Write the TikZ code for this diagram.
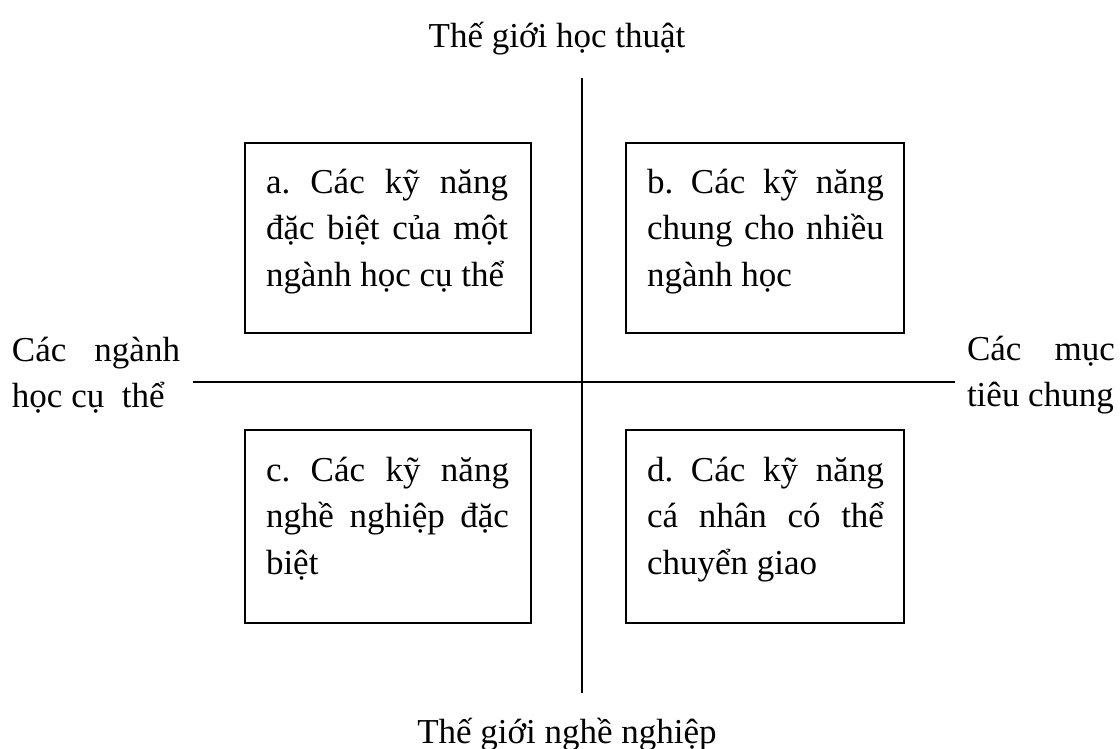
\documentclass[tikz,border=0pt]{standalone}
\usepackage{fontspec}
\setmainfont{Liberation Serif}
\frenchspacing
\newlength\ux
\setlength\ux{0.3429pt}
\newcommand\jline[2]{\makebox[#1\ux][s]{#2}}
\begin{document}
\begin{tikzpicture}[x=0.3429pt, y=-0.3429pt,
  every node/.style={inner sep=0pt, outer sep=0pt, font=\fontsize{12pt}{16.1pt}\selectfont},
  quadbox/.style={draw, line width=2\ux},
  axis/.style={line width=2\ux},
  lbl/.style={anchor=base west},
  ttl/.style={anchor=base}]
\useasboundingbox (0,0) rectangle (1120,749);
% axes
\coordinate (vtop) at (582,78);
\coordinate (vbot) at (582,693);
\coordinate (hleft) at (193,382);
\coordinate (hright) at (955,382);
\draw[axis] (vtop) -- (vbot);
\draw[axis] (hleft) -- (hright);
% boxes
\node[quadbox, minimum width=286\ux, minimum height=190\ux] (a) at (388,238) {};
\node[quadbox, minimum width=278\ux, minimum height=190\ux] (b) at (765,238) {};
\node[quadbox, minimum width=286\ux, minimum height=193\ux] (c) at (388,526.5) {};
\node[quadbox, minimum width=278\ux, minimum height=193\ux] (d) at (765,526.5) {};
% box texts
\node[lbl] (at) at (266,193) {\parbox[t]{242\ux}{\jline{242}{a. Các kỹ năng}\\\jline{242}{đặc biệt của một}\\ngành học cụ thể}};
\node[lbl] (bt) at (647,193) {\parbox[t]{237\ux}{\jline{237}{b. Các kỹ năng}\\\jline{237}{chung cho nhiều}\\ngành học}};
\node[lbl] (ct) at (266,481) {\parbox[t]{243\ux}{\jline{243}{c. Các kỹ năng}\\\jline{243}{nghề nghiệp đặc}\\biệt}};
\node[lbl] (dt) at (647,481) {\parbox[t]{237\ux}{\jline{237}{d. Các kỹ năng}\\\jline{237}{cá nhân có thể}\\chuyển giao}};
% axis labels
\node[ttl] (top) at (557,47) {Thế giới học thuật};
\node[ttl] (bot) at (567,743) {Thế giới nghề nghiệp};
\node[lbl] (left) at (12,361) {\parbox[t]{168\ux}{\jline{168}{Các ngành}\\học cụ\ \ thể}};
\node[lbl] (right) at (967,360) {\parbox[t]{148\ux}{\jline{148}{Các mục}\\tiêu chung}};
\end{tikzpicture}
\end{document}
